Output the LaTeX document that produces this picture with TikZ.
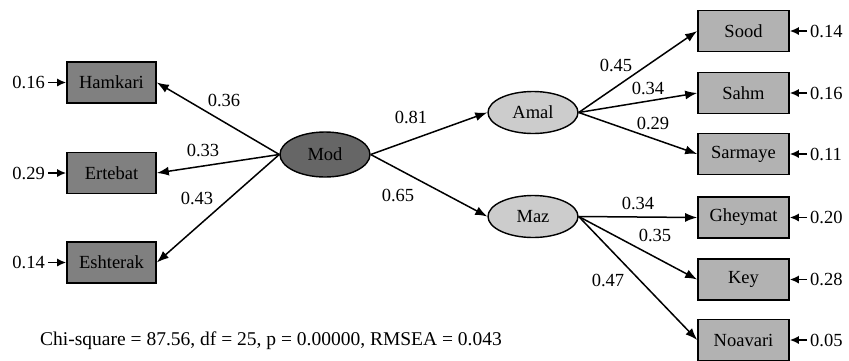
\documentclass[tikz,border=0pt]{standalone}
\usepackage{fontspec}
\setmainfont{Liberation Serif}
\usetikzlibrary{arrows.meta,shapes.geometric}
\begin{document}
\begin{tikzpicture}[x=1pt,y=-1pt,
  every node/.style={font=\fontsize{18.5}{22}\selectfont},
  dbox/.style={draw,line width=1.6pt,fill=black!50,minimum width=89pt,minimum height=41pt,inner sep=0pt},
  lbox/.style={draw,line width=1.6pt,fill=black!30,minimum width=91pt,minimum height=41pt,inner sep=0pt},
  dell/.style={ellipse,draw,line width=1.4pt,fill=black!60,minimum width=90pt,minimum height=45pt,inner sep=0pt},
  lell/.style={ellipse,draw,line width=1.4pt,fill=black!20,minimum width=90pt,minimum height=42pt,inner sep=0pt},
  edge/.style={line width=1.5pt,-{Latex[length=12pt,width=9pt]}},
  res/.style={line width=1.5pt,-{Latex[length=9pt,width=8pt]}},
  lab/.style={inner sep=0pt}
]
\useasboundingbox (0,0) rectangle (849,360);
% left boxes
\node[dbox] (ham) at (111.5,82.5) {Hamkari};
\node[dbox] (ert) at (111.5,173) {Ertebat};
\node[dbox] (esh) at (111.5,262.5) {Eshterak};
% ellipses
\node[dell] (mod) at (325,154.5) {Mod};
\node[lell] (amal) at (533,112.5) {Amal};
\node[lell] (maz) at (533,216.5) {Maz};
% right boxes
\node[lbox] (sood) at (743.5,31) {Sood};
\node[lbox] (sahm) at (743.5,93) {Sahm};
\node[lbox] (sarm) at (743.5,154) {Sarmaye};
\node[lbox] (ghey) at (743.5,217.5) {Gheymat};
\node[lbox] (key) at (743.5,279.5) {Key};
\node[lbox] (noav) at (743.5,340) {Noavari};
% edges
\draw[edge] (mod.west) -- (ham.east);
\draw[edge] (mod.west) -- (ert.east);
\draw[edge] (mod.west) -- (esh.east);
\draw[edge] (mod.east) -- (amal.west);
\draw[edge] (mod.east) -- (maz.west);
\draw[edge] (amal.east) -- (sood.west);
\draw[edge] (amal.east) -- (sahm.west);
\draw[edge] (amal.east) -- (sarm.west);
\draw[edge] (maz.east) -- (ghey.west);
\draw[edge] (maz.east) -- (key.west);
\draw[edge] (maz.east) -- (noav.west);
% edge labels
\node[lab] (l1) at (224,100) {0.36};
\node[lab] (l2) at (203,150) {0.33};
\node[lab] (l3) at (197,198) {0.43};
\node[lab] (l4) at (411,117) {0.81};
\node[lab] (l5) at (398,195) {0.65};
\node[lab] (l6) at (616,65) {0.45};
\node[lab] (l7) at (648,88) {0.34};
\node[lab] (l8) at (653,123) {0.29};
\node[lab] (l9) at (638,203) {0.34};
\node[lab] (l10) at (655,235) {0.35};
\node[lab] (l11) at (608,280) {0.47};
% residuals left
\node[lab,anchor=east] (e1) at (45,82.5) {0.16};
\node[lab,anchor=east] (e2) at (45,173) {0.29};
\node[lab,anchor=east] (e3) at (45,262.5) {0.14};
\draw[res] (e1.east) ++(3,0) -- (ham.west);
\draw[res] (e2.east) ++(3,0) -- (ert.west);
\draw[res] (e3.east) ++(3,0) -- (esh.west);
% residuals right
\node[lab,anchor=west] (r1) at (810,31) {0.14};
\node[lab,anchor=west] (r2) at (810,93) {0.16};
\node[lab,anchor=west] (r3) at (810,154) {0.11};
\node[lab,anchor=west] (r4) at (810,217.5) {0.20};
\node[lab,anchor=west] (r5) at (810,279.5) {0.28};
\node[lab,anchor=west] (r6) at (810,340) {0.05};
\draw[res] (r1.west) ++(-3,0) -- (sood.east);
\draw[res] (r2.west) ++(-3,0) -- (sahm.east);
\draw[res] (r3.west) ++(-3,0) -- (sarm.east);
\draw[res] (r4.west) ++(-3,0) -- (ghey.east);
\draw[res] (r5.west) ++(-3,0) -- (key.east);
\draw[res] (r6.west) ++(-3,0) -- (noav.east);
% fit statistics
\node[lab,anchor=west,font=\fontsize{19.5}{23}\selectfont] (fit) at (40,341) {Chi-square = 87.56, df = 25, p = 0.00000, RMSEA = 0.043};
\end{tikzpicture}
\end{document}
